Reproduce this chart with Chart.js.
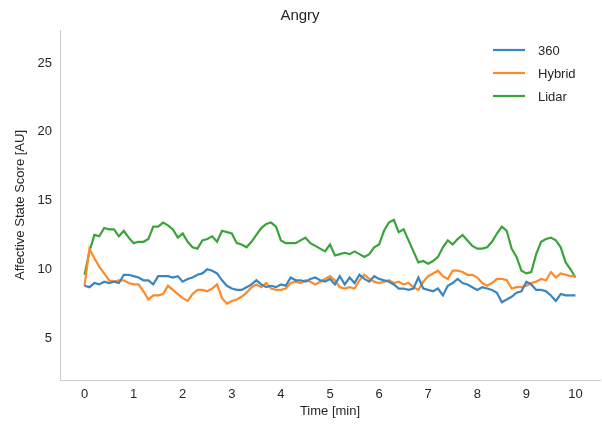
<!DOCTYPE html>
<html>
<head>
<meta charset="utf-8">
<script src="https://cdn.jsdelivr.net/npm/chart.js@4/dist/chart.umd.min.js"></script>
<style>
  body { margin: 0; background: #fff; }
</style>
</head>
<body>
<canvas id="angryChart" width="602" height="427"></canvas>
<script>
const time = [0.0, 0.1, 0.2, 0.3, 0.4, 0.5, 0.6, 0.7, 0.8, 0.9,
    1.0, 1.1, 1.2, 1.3, 1.4, 1.5, 1.6, 1.7, 1.8, 1.9,
    2.0, 2.1, 2.2, 2.3, 2.4, 2.5, 2.6, 2.7, 2.8, 2.9,
    3.0, 3.1, 3.2, 3.3, 3.4, 3.5, 3.6, 3.7, 3.8, 3.9,
    4.0, 4.1, 4.2, 4.3, 4.4, 4.5, 4.6, 4.7, 4.8, 4.9,
    5.0, 5.1, 5.2, 5.3, 5.4, 5.5, 5.6, 5.7, 5.8, 5.9,
    6.0, 6.1, 6.2, 6.3, 6.4, 6.5, 6.6, 6.7, 6.8, 6.9,
    7.0, 7.1, 7.2, 7.3, 7.4, 7.5, 7.6, 7.7, 7.8, 7.9,
    8.0, 8.1, 8.2, 8.3, 8.4, 8.5, 8.6, 8.7, 8.8, 8.9,
    9.0, 9.1, 9.2, 9.3, 9.4, 9.5, 9.6, 9.7, 9.8, 9.9,
    10.0];

const score360 = [8.8, 8.7, 9.0, 8.9, 9.1, 9.0, 9.1, 9.0, 9.6, 9.6,
    9.5, 9.4, 9.2, 9.2, 8.9, 9.5, 9.5, 9.5, 9.4, 9.5,
    9.1, 9.3, 9.4, 9.6, 9.7, 10.0, 9.9, 9.7, 9.2, 8.8,
    8.6, 8.5, 8.5, 8.7, 8.9, 9.2, 8.9, 8.7, 8.8, 8.7,
    8.9, 8.8, 9.4, 9.2, 9.2, 9.1, 9.3, 9.4, 9.2, 9.1,
    9.3, 8.9, 9.5, 8.9, 9.4, 9.0, 9.6, 9.3, 9.1, 9.5,
    9.3, 9.2, 9.1, 8.9, 8.6, 8.6, 8.5, 8.6, 9.4, 8.6,
    8.5, 8.4, 8.6, 8.1, 8.8, 9.0, 9.3, 9.0, 8.9, 8.7,
    8.5, 8.7, 8.6, 8.5, 8.3, 7.6, 7.8, 8.0, 8.3, 8.4,
    9.1, 8.9, 8.5, 8.5, 8.4, 8.1, 7.7, 8.2, 8.1, 8.1,
    8.1];

const scoreHybrid = [8.8, 11.5, 10.8, 10.2, 9.7, 9.2, 9.1, 9.2, 9.2, 9.0,
    8.9, 8.9, 8.4, 7.8, 8.1, 8.1, 8.2, 8.8, 8.5, 8.2,
    7.9, 7.7, 8.2, 8.5, 8.5, 8.4, 8.6, 8.9, 7.9, 7.5,
    7.7, 7.8, 8.0, 8.3, 8.7, 8.9, 8.7, 9.0, 8.6, 8.5,
    8.5, 8.6, 9.0, 9.1, 9.0, 9.2, 9.1, 8.9, 9.1, 9.3,
    9.5, 9.2, 8.7, 8.6, 8.7, 8.6, 9.2, 9.6, 9.3, 9.1,
    9.0, 9.1, 9.2, 9.0, 9.1, 8.9, 9.0, 8.7, 8.5, 9.1,
    9.5, 9.7, 9.9, 9.5, 9.3, 9.9, 9.9, 9.8, 9.6, 9.6,
    9.4, 9.0, 8.8, 9.0, 9.3, 9.3, 9.2, 8.6, 8.7, 8.7,
    8.8, 9.0, 9.1, 9.3, 9.2, 9.8, 9.4, 9.7, 9.6, 9.5,
    9.5];

const scoreLidar = [9.6, 11.3, 12.5, 12.4, 13.0, 12.9, 12.9, 12.4, 12.8, 12.3,
    11.9, 12.0, 12.0, 12.2, 13.1, 13.1, 13.4, 13.2, 12.9, 12.3,
    12.6, 12.0, 11.6, 11.5, 12.1, 12.2, 12.4, 12.0, 12.8, 12.7,
    12.6, 11.9, 11.8, 11.6, 12.0, 12.5, 13.0, 13.3, 13.4, 13.1,
    12.1, 11.9, 11.9, 11.9, 12.1, 12.3, 11.9, 11.7, 11.5, 11.3,
    11.8, 11.0, 11.1, 11.2, 11.1, 11.3, 11.1, 10.9, 11.1, 11.6,
    11.8, 12.8, 13.4, 13.6, 12.7, 12.9, 12.1, 11.3, 10.5, 10.6,
    10.4, 10.6, 10.9, 11.6, 12.1, 11.8, 12.2, 12.5, 12.1, 11.7,
    11.5, 11.5, 11.6, 12.0, 12.6, 13.1, 12.8, 11.5, 10.9, 9.9,
    9.7, 9.8, 11.1, 12.0, 12.2, 12.3, 12.1, 11.6, 10.5, 10.0,
    9.4];

const seriesNames = ['360', 'Hybrid', 'Lidar'];
const seriesColors = ['#3a86c0', '#ff8a2a', '#3aa33a'];
const xTicks = [0, 1, 2, 3, 4, 5, 6, 7, 8, 9, 10];
const yTicks = [5, 10, 15, 20, 25];

const font = 'Liberation Sans, Arial, sans-serif';

function toPoints(values) {
    return values.map((v, i) => ({ x: time[i], y: v }));
}

// legend drawn inside the plot, top right, like matplotlib
const innerLegend = {
    id: 'innerLegend',
    afterDraw(chart) {
        const ctx = chart.ctx;
        const area = chart.chartArea;
        ctx.save();
        ctx.font = '13px ' + font;
        ctx.textBaseline = 'middle';
        chart.data.datasets.forEach((ds, i) => {
            let y = area.top + 20 + i * 23;
            let x = area.right - 107;
            ctx.strokeStyle = ds.borderColor;
            ctx.lineWidth = 2.2;
            ctx.beginPath();
            ctx.moveTo(x, y);
            ctx.lineTo(x + 32, y);
            ctx.stroke();
            ctx.fillStyle = '#262626';
            ctx.fillText(ds.label, x + 45, y + 1);
        });
        ctx.restore();
    }
};

let ctx = document.getElementById('angryChart').getContext('2d');
let myChart = new Chart(ctx, {
    type: 'line',
    data: {
        datasets: [
            { label: seriesNames[0], data: toPoints(score360), borderColor: seriesColors[0] },
            { label: seriesNames[1], data: toPoints(scoreHybrid), borderColor: seriesColors[1] },
            { label: seriesNames[2], data: toPoints(scoreLidar), borderColor: seriesColors[2] }
        ]
    },
    options: {
        responsive: false,
        animation: false,
        layout: { padding: { left: 0, right: 2, top: 0, bottom: 0 } },
        elements: {
            point: { radius: 0 },
            line: { borderWidth: 2.2, tension: 0 }
        },
        plugins: {
            legend: { display: false },
            tooltip: { enabled: false },
            title: {
                display: true,
                text: 'Angry',
                color: '#262626',
                font: { family: font, size: 15, weight: 'normal' },
                padding: { top: 7, bottom: 5 }
            }
        },
        scales: {
            x: {
                type: 'linear',
                min: -0.5,
                max: 10.5,
                afterBuildTicks: (scale) => { scale.ticks = xTicks.map(v => ({ value: v })); },
                afterFit: (scale) => { scale.height = 47; },
                grid: { display: false, drawTicks: false },
                border: { display: true, color: '#cccccc', width: 1 },
                ticks: { color: '#262626', padding: 7, font: { family: font, size: 13 }, maxRotation: 0 },
                title: {
                    display: true,
                    text: 'Time [min]',
                    color: '#262626',
                    font: { family: font, size: 13 },
                    padding: { top: 1, bottom: 8 }
                }
            },
            y: {
                type: 'linear',
                min: 1.95,
                max: 27.4,
                afterBuildTicks: (scale) => { scale.ticks = yTicks.map(v => ({ value: v })); },
                afterFit: (scale) => { scale.width = 60; },
                grid: { display: false, drawTicks: false },
                border: { display: true, color: '#cccccc', width: 1 },
                ticks: { color: '#262626', padding: 8, font: { family: font, size: 13 } },
                title: {
                    display: true,
                    text: 'Affective State Score [AU]',
                    color: '#262626',
                    font: { family: font, size: 13 },
                    padding: { top: 13, bottom: 4 }
                }
            }
        }
    },
    plugins: [innerLegend]
});
</script>
</body>
</html>
